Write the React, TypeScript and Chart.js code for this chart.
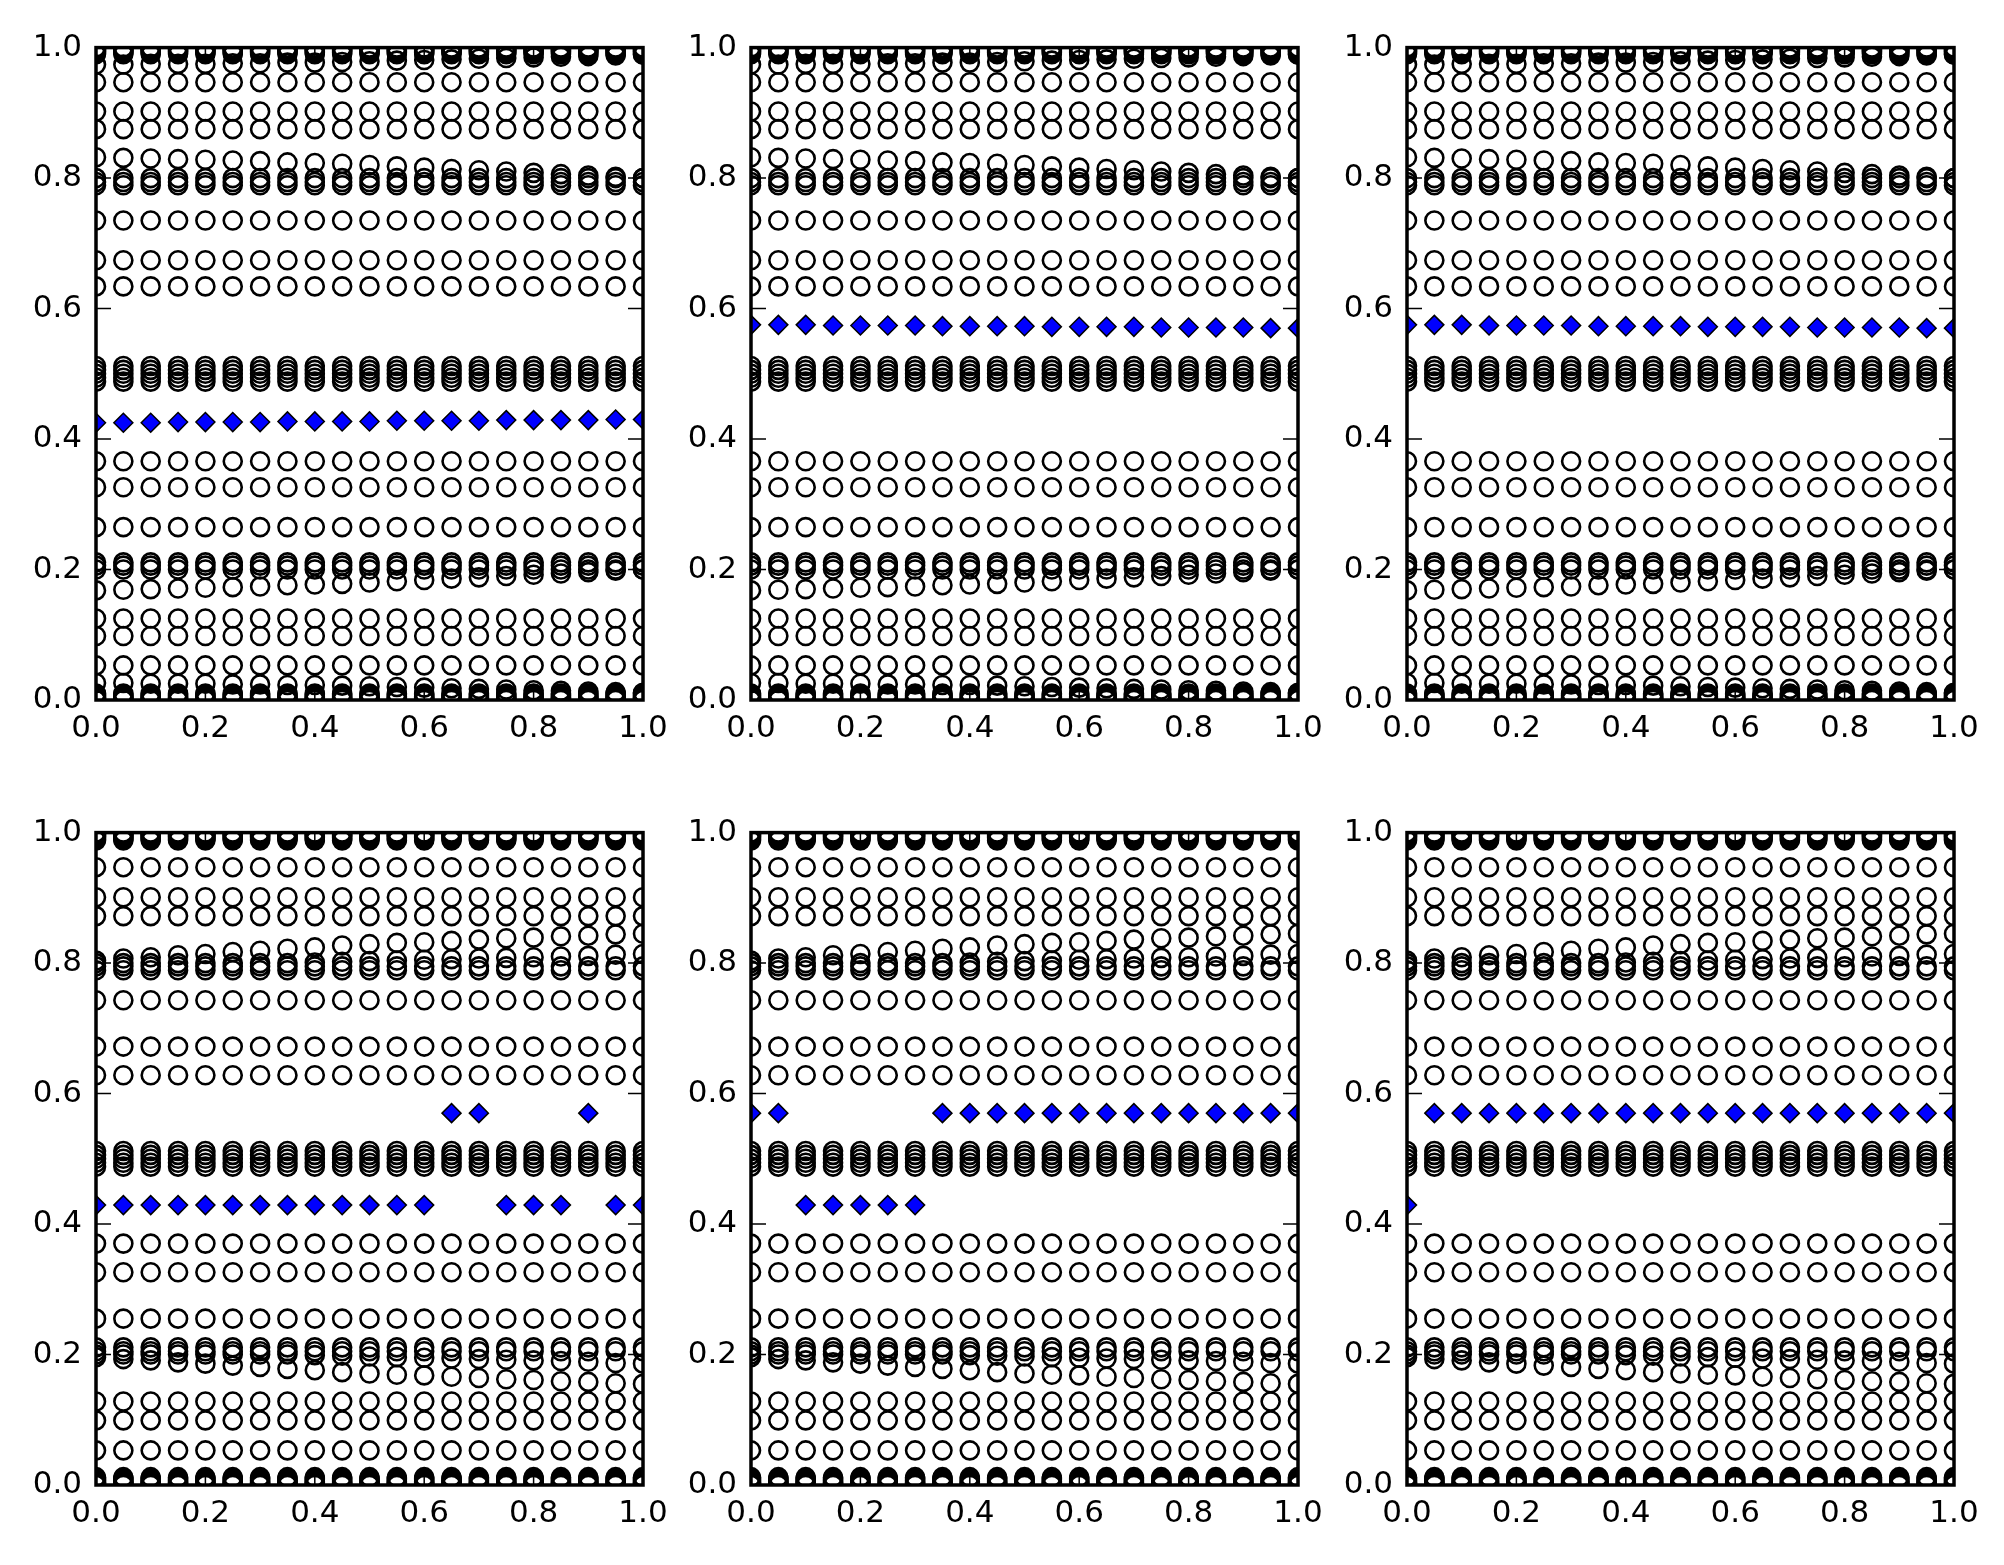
import React, { useEffect, useRef } from 'react';
import { Chart, registerables } from 'chart.js';

Chart.register(...registerables);

// x positions of every column of markers
const xPositions = [0, 0.05, 0.1, 0.15, 0.2, 0.25, 0.3, 0.35, 0.4, 0.45, 0.5, 0.55, 0.6, 0.65, 0.7, 0.75, 0.8, 0.85, 0.9, 0.95, 1.0];

// axis tick labels
const tickValues = [0.0, 0.2, 0.4, 0.6, 0.8, 1.0];

// ---------- top row panels: open-circle levels ----------
const topFlatLevels = [
  1.0, 0.998, 0.996, 0.994, 0.992, 0.99, 0.947, 0.902, 0.875, 0.8, 0.794, 0.789, 0.735, 0.674, 0.634,
  0.512, 0.506, 0.5, 0.494, 0.488,
  0.366, 0.326, 0.265, 0.211, 0.206, 0.2, 0.125, 0.098, 0.053, 0.01, 0.008, 0.006, 0.004, 0.002, 0.0,
];
const topRowNear975 = [0.974, 0.974, 0.975, 0.975, 0.975, 0.976, 0.976, 0.977, 0.977, 0.978, 0.979, 0.98, 0.981, 0.982, 0.983, 0.984, 0.985, 0.986, 0.987, 0.988, 0.989];
const topRowNear832 = [0.832, 0.831, 0.83, 0.829, 0.828, 0.827, 0.826, 0.824, 0.823, 0.822, 0.82, 0.818, 0.816, 0.814, 0.812, 0.81, 0.808, 0.806, 0.804, 0.802, 0.8];
const topRowNear168 = [0.168, 0.169, 0.17, 0.171, 0.172, 0.173, 0.174, 0.176, 0.177, 0.178, 0.18, 0.182, 0.184, 0.186, 0.188, 0.19, 0.192, 0.194, 0.196, 0.198, 0.2];
const topRowNear026 = [0.026, 0.026, 0.025, 0.025, 0.025, 0.024, 0.024, 0.023, 0.023, 0.022, 0.021, 0.02, 0.019, 0.018, 0.017, 0.016, 0.015, 0.014, 0.013, 0.012, 0.011];

// ---------- bottom row panels: open-circle levels ----------
const bottomFlatLevels = [
  1.0, 0.998, 0.996, 0.994, 0.992, 0.99, 0.988, 0.947, 0.901, 0.872, 0.795, 0.789, 0.743, 0.672, 0.628,
  0.512, 0.506, 0.5, 0.494, 0.488,
  0.37, 0.326, 0.255, 0.211, 0.205, 0.128, 0.099, 0.053, 0.012, 0.01, 0.008, 0.006, 0.004, 0.002, 0.0,
];
const bottomRowNear804 = [0.804, 0.807, 0.809, 0.812, 0.814, 0.817, 0.819, 0.822, 0.824, 0.827, 0.829, 0.831, 0.832, 0.834, 0.836, 0.838, 0.839, 0.841, 0.842, 0.844, 0.845];
const bottomRowNear800 = [0.8, 0.8, 0.8, 0.8, 0.8, 0.8, 0.8, 0.8, 0.801, 0.802, 0.803, 0.804, 0.805, 0.806, 0.807, 0.808, 0.809, 0.81, 0.811, 0.813, 0.814];
const bottomRowNear200 = [0.2, 0.2, 0.2, 0.2, 0.2, 0.2, 0.2, 0.2, 0.199, 0.198, 0.197, 0.196, 0.195, 0.194, 0.193, 0.192, 0.191, 0.19, 0.189, 0.187, 0.186];
const bottomRowNear196 = [0.196, 0.193, 0.191, 0.188, 0.186, 0.183, 0.181, 0.178, 0.176, 0.173, 0.171, 0.169, 0.168, 0.166, 0.164, 0.162, 0.161, 0.159, 0.158, 0.156, 0.155];

// ---------- filled blue diamonds, one array per panel (null = none) ----------
const diamondsTopLeft = [0.425, 0.425, 0.425, 0.426, 0.426, 0.426, 0.426, 0.427, 0.427, 0.427, 0.427, 0.428, 0.428, 0.428, 0.428, 0.429, 0.429, 0.429, 0.429, 0.43, 0.43];
const diamondsTopMiddle = [0.575, 0.575, 0.575, 0.574, 0.574, 0.574, 0.574, 0.573, 0.573, 0.573, 0.573, 0.572, 0.572, 0.572, 0.572, 0.571, 0.571, 0.571, 0.571, 0.57, 0.57];
const diamondsTopRight = [0.575, 0.575, 0.575, 0.574, 0.574, 0.574, 0.574, 0.573, 0.573, 0.573, 0.573, 0.572, 0.572, 0.572, 0.572, 0.571, 0.571, 0.571, 0.571, 0.57, 0.57];
const diamondsBottomLeft = [0.429, 0.429, 0.429, 0.429, 0.429, 0.429, 0.429, 0.429, 0.429, 0.429, 0.429, 0.429, 0.429, 0.57, 0.57, 0.429, 0.429, 0.429, 0.57, 0.429, 0.429];
const diamondsBottomMiddle = [0.57, 0.57, 0.429, 0.429, 0.429, 0.429, 0.429, 0.57, 0.57, 0.57, 0.57, 0.57, 0.57, 0.57, 0.57, 0.57, 0.57, 0.57, 0.57, 0.57, 0.57];
const diamondsBottomRight = [0.429, 0.57, 0.57, 0.57, 0.57, 0.57, 0.57, 0.57, 0.57, 0.57, 0.57, 0.57, 0.57, 0.57, 0.57, 0.57, 0.57, 0.57, 0.57, 0.57, 0.57];

// ---------- layout ----------
const PLOT_W = 547;
const PLOT_H = 655;
const PAD_L = 100;
const PAD_T = 30;
const PAD_R = 40;
const PAD_B = 70;
const COL_LEFTS = [96, 751, 1407];
const ROW_TOPS = [45, 830];

type PanelSpec = {
  flat: number[];
  sloped: number[][];
  diamonds: (number | null)[];
  left: number;
  top: number;
};

const panels: PanelSpec[] = [
  { flat: topFlatLevels, sloped: [topRowNear975, topRowNear832, topRowNear168, topRowNear026], diamonds: diamondsTopLeft, left: COL_LEFTS[0], top: ROW_TOPS[0] },
  { flat: topFlatLevels, sloped: [topRowNear975, topRowNear832, topRowNear168, topRowNear026], diamonds: diamondsTopMiddle, left: COL_LEFTS[1], top: ROW_TOPS[0] },
  { flat: topFlatLevels, sloped: [topRowNear975, topRowNear832, topRowNear168, topRowNear026], diamonds: diamondsTopRight, left: COL_LEFTS[2], top: ROW_TOPS[0] },
  { flat: bottomFlatLevels, sloped: [bottomRowNear804, bottomRowNear800, bottomRowNear200, bottomRowNear196], diamonds: diamondsBottomLeft, left: COL_LEFTS[0], top: ROW_TOPS[1] },
  { flat: bottomFlatLevels, sloped: [bottomRowNear804, bottomRowNear800, bottomRowNear200, bottomRowNear196], diamonds: diamondsBottomMiddle, left: COL_LEFTS[1], top: ROW_TOPS[1] },
  { flat: bottomFlatLevels, sloped: [bottomRowNear804, bottomRowNear800, bottomRowNear200, bottomRowNear196], diamonds: diamondsBottomRight, left: COL_LEFTS[2], top: ROW_TOPS[1] },
];

const FONT = { family: "'DejaVu Sans', sans-serif", size: 31 };

function Panel({ spec }: { spec: PanelSpec }) {
  const ref = useRef<HTMLCanvasElement | null>(null);
  const cw = PAD_L + PLOT_W + PAD_R;
  const ch = PAD_T + PLOT_H + PAD_B;

  useEffect(() => {
    if (!ref.current) return;
    const circles: { x: number; y: number }[] = [];
    spec.flat.forEach((level) => xPositions.forEach((x) => circles.push({ x, y: level })));
    spec.sloped.forEach((row) => row.forEach((y, i) => circles.push({ x: xPositions[i], y })));
    const diamonds: { x: number; y: number }[] = [];
    spec.diamonds.forEach((y, i) => {
      if (y !== null) diamonds.push({ x: xPositions[i], y });
    });

    const framePlugin = {
      id: 'frameTicks',
      afterDatasetsDraw(chart: any) {
        const { ctx, chartArea: a, scales } = chart;
        ctx.save();
        ctx.strokeStyle = '#000';
        ctx.lineWidth = 1.5;
        const tl = 15;
        tickValues.forEach((v) => {
          const py = scales.y.getPixelForValue(v);
          ctx.beginPath();
          ctx.moveTo(a.left, py);
          ctx.lineTo(a.left + tl, py);
          ctx.moveTo(a.right, py);
          ctx.lineTo(a.right - tl, py);
          ctx.stroke();
          const px = scales.x.getPixelForValue(v);
          ctx.beginPath();
          ctx.moveTo(px, a.bottom);
          ctx.lineTo(px, a.bottom - tl);
          ctx.moveTo(px, a.top);
          ctx.lineTo(px, a.top + tl);
          ctx.stroke();
        });
        ctx.lineWidth = 3.5;
        ctx.strokeRect(a.left, a.top, a.right - a.left, a.bottom - a.top);
        ctx.restore();
      },
    };

    const chart = new Chart(ref.current, {
      type: 'scatter',
      data: {
        datasets: [
          {
            data: diamonds,
            pointStyle: 'rectRot',
            pointRadius: 9.5,
            pointHoverRadius: 9.5,
            backgroundColor: '#0000ff',
            borderColor: '#000000',
            borderWidth: 1.5,
            clip: 0,
            order: 0,
          } as any,
          {
            data: circles,
            pointStyle: 'circle',
            pointRadius: 9,
            pointHoverRadius: 9,
            backgroundColor: 'rgba(0,0,0,0)',
            borderColor: '#000000',
            borderWidth: 2.6,
            clip: 0,
            order: 1,
          } as any,
        ],
      },
      options: {
        responsive: false,
        animation: false,
        devicePixelRatio: 1,
        events: [],
        layout: { padding: { left: 0, top: PAD_T, right: PAD_R, bottom: 0 } },
        plugins: { legend: { display: false }, tooltip: { enabled: false } },
        scales: {
          x: {
            type: 'linear',
            min: 0,
            max: 1,
            afterFit: (s: any) => {
              s.height = PAD_B;
            },
            grid: { display: false, drawTicks: false },
            border: { display: false },
            ticks: {
              stepSize: 0.2,
              padding: 10,
              color: '#000',
              font: FONT,
              maxRotation: 0,
              autoSkip: false,
              callback: (v: any) => Number(v).toFixed(1),
            },
          },
          y: {
            type: 'linear',
            min: 0,
            max: 1,
            afterFit: (s: any) => {
              s.width = PAD_L;
            },
            grid: { display: false, drawTicks: false },
            border: { display: false },
            ticks: {
              stepSize: 0.2,
              padding: 14,
              color: '#000',
              font: FONT,
              autoSkip: false,
              callback: (v: any) => Number(v).toFixed(1),
            },
          },
        },
      } as any,
      plugins: [framePlugin],
    });
    return () => chart.destroy();
  }, [spec]);

  return (
    <canvas
      ref={ref}
      width={cw}
      height={ch}
      style={{ position: 'absolute', left: spec.left - PAD_L, top: spec.top - PAD_T, width: cw, height: ch }}
    />
  );
}

export default function App() {
  return (
    <div style={{ position: 'absolute', left: 0, top: 0, width: 2004, height: 1565, background: '#fff', overflow: 'hidden' }}>
      {panels.map((p, i) => (
        <Panel key={i} spec={p} />
      ))}
    </div>
  );
}
